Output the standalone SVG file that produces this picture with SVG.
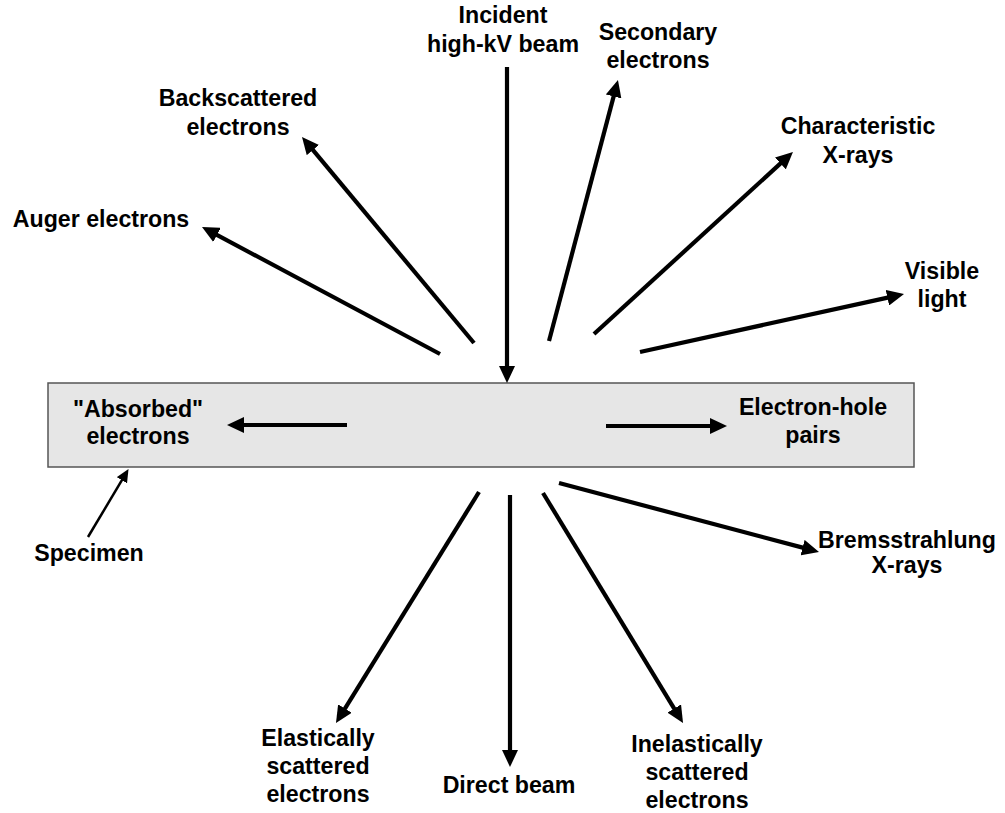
<svg xmlns="http://www.w3.org/2000/svg" width="1005" height="813" viewBox="0 0 1005 813">
<style>
text{font-family:"Liberation Sans",Arial,sans-serif;font-weight:bold;font-size:23.2px;fill:#000;text-anchor:middle}
.a{stroke:#000;stroke-width:4.2;fill:none;marker-end:url(#ah)}
.s{stroke:#000;stroke-width:2.5;fill:none;marker-end:url(#ahs)}
</style>
<defs>
<marker id="ah" markerUnits="userSpaceOnUse" markerWidth="17" markerHeight="16" refX="5" refY="8" orient="auto"><path d="M0,0 L17,8 L0,16 z" fill="#000"/></marker>
<marker id="ahs" markerUnits="userSpaceOnUse" markerWidth="13" markerHeight="12" refX="3" refY="6" orient="auto"><path d="M0,0 L13,6 L0,12 z" fill="#000"/></marker>
</defs>
<rect width="1005" height="813" fill="#fff"/>
<g id="specimen"><rect x="48" y="383" width="866" height="84" fill="#e6e6e6" stroke="#555" stroke-width="1.5"/></g>
<g id="connectors">
<line class="a" x1="507" y1="67" x2="507" y2="371"/>
<line class="a" x1="549" y1="341" x2="614.9" y2="91.6"/>
<line class="a" x1="474" y1="343" x2="309.7" y2="146.2"/>
<line class="a" x1="440" y1="354" x2="212.6" y2="232.6"/>
<line class="a" x1="594" y1="334" x2="784.1" y2="160.1"/>
<line class="a" x1="640" y1="352" x2="892.3" y2="296.6"/>
<line class="a" x1="347" y1="425" x2="239" y2="425"/>
<line class="a" x1="606" y1="426" x2="715" y2="426"/>
<line class="a" x1="559" y1="483" x2="807.4" y2="548.9"/>
<line class="a" x1="479" y1="492" x2="342.3" y2="712.8"/>
<line class="a" x1="510" y1="495" x2="510" y2="755"/>
<line class="a" x1="543" y1="493" x2="676.8" y2="712.8"/>
<line class="s" x1="88" y1="537" x2="123.4" y2="477.7"/>
</g>
<g id="incident"><text x="503" y="23">Incident</text><text x="503" y="52">high-kV beam</text></g>
<g id="secondary"><text x="658" y="40">Secondary</text><text x="658" y="68">electrons</text></g>
<g id="backscattered"><text x="238" y="106">Backscattered</text><text x="238" y="135">electrons</text></g>
<g id="auger"><text x="101" y="227">Auger electrons</text></g>
<g id="characteristic"><text x="858" y="134">Characteristic</text><text x="858" y="163">X-rays</text></g>
<g id="visible"><text x="942" y="279">Visible</text><text x="942" y="307">light</text></g>
<g id="absorbed"><text x="138" y="417">"Absorbed"</text><text x="138" y="444">electrons</text></g>
<g id="electronhole"><text x="813" y="415">Electron-hole</text><text x="813" y="443">pairs</text></g>
<g id="specimen-label"><text x="89" y="561">Specimen</text></g>
<g id="bremsstrahlung"><text x="907" y="548">Bremsstrahlung</text><text x="907" y="573">X-rays</text></g>
<g id="elastic"><text x="318" y="746">Elastically</text><text x="318" y="774">scattered</text><text x="318" y="802">electrons</text></g>
<g id="direct"><text x="509" y="793">Direct beam</text></g>
<g id="inelastic"><text x="697" y="752">Inelastically</text><text x="697" y="780">scattered</text><text x="697" y="808">electrons</text></g>
</svg>
